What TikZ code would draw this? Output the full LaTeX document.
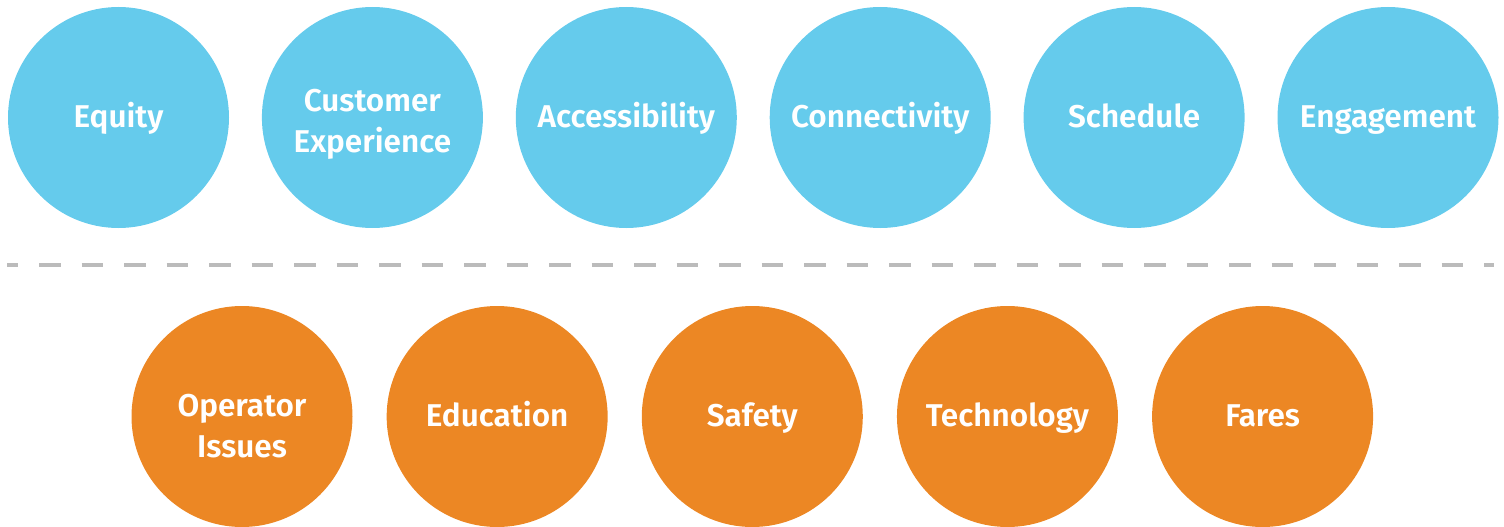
\documentclass[tikz,border=0pt]{standalone}
\usepackage{fontspec}
\setmainfont{Fira Sans}[BoldFont={Fira Sans SemiBold}]
\usepackage{tikz}
\usetikzlibrary{positioning}

\definecolor{topicblue}{HTML}{65CBEC}
\definecolor{issueorange}{HTML}{EC8724}
\definecolor{rulegray}{HTML}{BBBBBB}

\tikzset{
    topic/.style={circle, fill=#1, draw=none, minimum size=221pt, inner sep=0pt,
        align=center, text=white, font=\fontsize{31.5}{41}\selectfont\bfseries,
        text height=22pt, text depth=3pt},
}

\begin{document}
\begin{tikzpicture}[x=1pt, y=-1pt]
    \useasboundingbox (0,0) rectangle (1504,527);

    \node [topic=topicblue] (equity) at (118.5,117.5) {Equity};
    \node [topic=topicblue, text height=72pt, right=32.5pt of equity] (customer) {Customer\\Experience};
    \node [topic=topicblue, right=32.5pt of customer] (accessibility) {Accessibility};
    \node [topic=topicblue, right=32.5pt of accessibility] (connectivity) {Connectivity};
    \node [topic=topicblue, right=32.5pt of connectivity] (schedule) {Schedule};
    \node [topic=topicblue, right=32.5pt of schedule] (engagement) {Engagement};

    \coordinate (rule_left) at (7,265);
    \coordinate (rule_right) at (1494,265);
    \draw [rulegray, line width=4.5pt, dash pattern=on 21.5pt off 21pt, dash phase=10.5pt] (rule_left) -- (rule_right);

    \node [topic=issueorange, text height=85pt] (operator) at (242,416.5) {Operator\\Issues};
    \node [topic=issueorange, right=33.75pt of operator] (education) {Education};
    \node [topic=issueorange, right=33.75pt of education] (safety) {Safety};
    \node [topic=issueorange, right=33.75pt of safety] (technology) {Technology};
    \node [topic=issueorange, right=33.75pt of technology] (fares) {Fares};
\end{tikzpicture}
\end{document}
